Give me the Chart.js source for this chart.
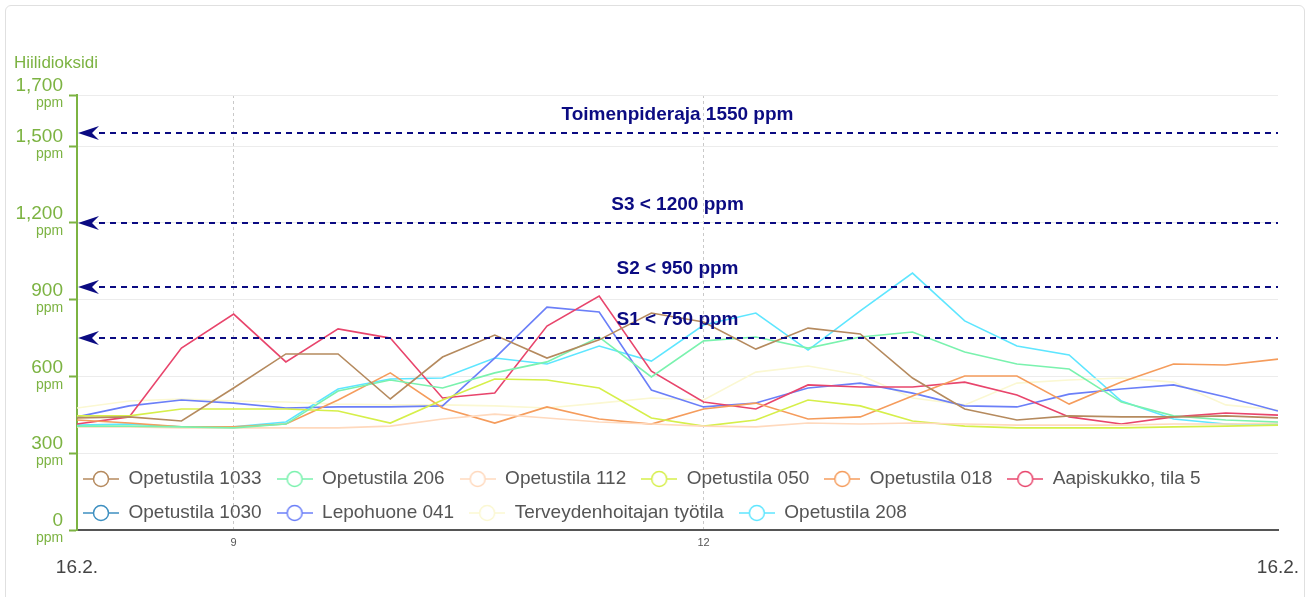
<!DOCTYPE html>
<html>
<head>
<meta charset="utf-8">
<title>Hiilidioksidi</title>
<script src="https://cdn.jsdelivr.net/npm/chart.js@4"></script>
<style>
  html, body { margin: 0; padding: 0; background: #fff; overflow: hidden; }
  #card { position: absolute; left: 5px; top: 5px; width: 1298px; height: 620px; border: 1px solid #e0e0e0; border-radius: 6px; }
  #wrap { position: absolute; left: 0; top: 0; width: 1308px; height: 597px; }
</style>
</head>
<body>
<div id="card"></div>
<div id="wrap"><canvas id="chart"></canvas></div>
<script>
// mittausajat 16.2. (20 min välein)
const times = ['8:00', '8:20', '8:40', '9:00', '9:20', '9:40', '10:00', '10:20', '10:40', '11:00', '11:20', '11:40',
  '12:00', '12:20', '12:40', '13:00', '13:20', '13:40', '14:00', '14:20', '14:40', '15:00', '15:20', '15:40'];

const opetustila1033 = [438, 442, 426, 555, 688, 688, 512, 676, 762, 672, 743, 848, 813, 707, 789, 766, 594, 473, 430, 446, 442, 442, 446, 438];
const opetustila206 = [406, 406, 403, 399, 414, 543, 586, 555, 614, 657, 754, 598, 739, 754, 711, 754, 774, 696, 649, 629, 500, 446, 430, 422];
const opetustila112 = [403, 403, 399, 399, 399, 399, 406, 434, 453, 438, 422, 414, 406, 403, 418, 414, 418, 414, 410, 410, 410, 414, 414, 418];
const opetustila050 = [446, 446, 473, 473, 473, 465, 418, 508, 590, 586, 555, 438, 406, 430, 508, 485, 426, 406, 399, 399, 399, 403, 406, 410];
const opetustila018 = [430, 418, 403, 403, 414, 508, 614, 477, 418, 481, 434, 414, 473, 496, 434, 442, 524, 602, 602, 492, 578, 649, 645, 668];
const aapiskukko5 = [414, 442, 711, 844, 657, 786, 750, 516, 535, 797, 914, 621, 500, 473, 567, 559, 559, 578, 528, 442, 414, 442, 457, 449];
const opetustila1030 = [];
const lepohuone041 = [442, 485, 508, 496, 477, 481, 481, 485, 672, 871, 852, 547, 481, 496, 555, 574, 535, 485, 481, 531, 551, 567, 520, 465];
const terveydenhoitaja = [477, 504, 512, 504, 500, 492, 489, 489, 485, 477, 496, 516, 508, 617, 641, 606, 516, 489, 574, 586, 594, 578, 489, 469];
const opetustila208 = [410, 414, 403, 403, 422, 551, 590, 594, 672, 649, 719, 660, 801, 848, 703, 856, 1004, 817, 719, 684, 504, 434, 414, 414];

const seriesNames = ['Opetustila 1033', 'Opetustila 206', 'Opetustila 112', 'Opetustila 050', 'Opetustila 018',
  'Aapiskukko, tila 5', 'Opetustila 1030', 'Lepohuone 041', 'Terveydenhoitajan työtila', 'Opetustila 208'];
const seriesValues = [opetustila1033, opetustila206, opetustila112, opetustila050, opetustila018,
  aapiskukko5, opetustila1030, lepohuone041, terveydenhoitaja, opetustila208];
const seriesColors = ['#b58a5e', '#7af2ae', '#ffd9bd', '#d6ef4a', '#f59c5c',
  '#e8456c', '#3d8fc0', '#6b7ff8', '#fbf8d2', '#5ee6ff'];

const yTicks = [0, 300, 600, 900, 1200, 1500, 1700];
const yUnit = 'ppm';
const hourTicks = [9, 12];
const dateLabel = '16.2.';
const thresholdValues = [1550, 1200, 950, 750];
const thresholdLabels = ['Toimenpideraja 1550 ppm', 'S3 < 1200 ppm', 'S2 < 950 ppm', 'S1 < 750 ppm'];

const green = '#7cb342';
const navy = '#0b0b82';

function toHours(t) {
    const [h, m] = t.split(':').map(Number);
    return h + m / 60;
}
const xs = times.map(toHours);

// legendan merkki: viiva + ympyrä
function makeMarker(color) {
    const c = document.createElement('canvas');
    c.width = 36;
    c.height = 18;
    const g = c.getContext('2d');
    g.strokeStyle = color;
    g.globalAlpha = 0.75;
    g.lineWidth = 2;
    g.beginPath();
    g.moveTo(0, 9);
    g.lineTo(36, 9);
    g.stroke();
    g.globalAlpha = 1;
    g.beginPath();
    g.arc(18, 9, 7.5, 0, Math.PI * 2);
    g.fillStyle = '#fff';
    g.fill();
    g.lineWidth = 1.5;
    g.stroke();
    return c;
}
const markers = seriesColors.map(makeMarker);

// legenda piirretään kuvaajan alueen sisälle alareunaan
const legendInside = {
    id: 'legendInside',
    beforeLayout(chart) {
        const lg = chart.legend;
        if (lg && !lg._inside) {
            const fit = lg.fit.bind(lg);
            lg.fit = function () {
                fit();
                this._realHeight = this.height;
                this.height = 0;
            };
            lg._inside = true;
        }
    },
    afterLayout(chart) {
        const lg = chart.legend;
        const a = chart.chartArea;
        lg.left = a.left - 9;
        lg.right = a.right;
        lg.width = lg.right - lg.left;
        lg.top = a.bottom - 75.5;
        lg.height = lg._realHeight;
        lg.bottom = lg.top + lg.height;
    }
};

// raja-arvoviivat
const thresholds = {
    id: 'thresholds',
    afterDatasetsDraw(chart) {
        const { ctx, chartArea: a, scales: { y } } = chart;
        ctx.save();
        thresholdValues.forEach((v, i) => {
            const py = Math.round(y.getPixelForValue(v));
            ctx.strokeStyle = navy;
            ctx.lineWidth = 2;
            ctx.setLineDash([6, 5]);
            ctx.beginPath();
            ctx.moveTo(a.left + 22, py);
            ctx.lineTo(a.right, py);
            ctx.stroke();
            ctx.setLineDash([]);
            ctx.fillStyle = navy;
            ctx.beginPath();
            ctx.moveTo(a.left + 1, py);
            ctx.lineTo(a.left + 22, py - 7);
            ctx.lineTo(a.left + 15, py);
            ctx.lineTo(a.left + 22, py + 7);
            ctx.closePath();
            ctx.fill();
            ctx.font = 'bold 19px "Liberation Sans", Arial, sans-serif';
            ctx.textAlign = 'center';
            ctx.textBaseline = 'middle';
            ctx.fillText(thresholdLabels[i], (a.left + a.right) / 2, py - 18);
        });
        ctx.restore();
    }
};

Chart.defaults.font.family = '"Liberation Sans", Arial, sans-serif';

new Chart(document.getElementById('chart'), {
    type: 'line',
    data: {
        datasets: seriesNames.map((name, i) => ({
            label: name,
            data: seriesValues[i].map((v, j) => ({ x: xs[j], y: v })),
            borderColor: seriesColors[i],
            backgroundColor: seriesColors[i],
            borderWidth: 1.6,
            pointRadius: 0,
            tension: 0,
            fill: false,
            xAxisID: 'x',
            yAxisID: 'y'
        }))
    },
    options: {
        responsive: true,
        maintainAspectRatio: false,
        animation: false,
        layout: { padding: { top: 10, left: 14, right: 30, bottom: 17 } },
        plugins: {
            tooltip: { enabled: false },
            title: {
                display: true,
                text: 'Hiilidioksidi',
                align: 'start',
                color: green,
                font: { size: 17, weight: 'normal' },
                padding: { top: 43, bottom: 21.6 }
            },
            legend: {
                position: 'bottom',
                align: 'start',
                labels: {
                    usePointStyle: true,
                    pointStyleWidth: 36,
                    boxHeight: 19,
                    padding: 15,
                    color: '#555',
                    font: { size: 19 },
                    generateLabels: chart => Chart.defaults.plugins.legend.labels.generateLabels(chart)
                        .map(it => Object.assign(it, { pointStyle: markers[it.datasetIndex] }))
                }
            }
        },
        scales: {
            x: {
                type: 'linear',
                position: 'bottom',
                weight: 0,
                min: xs[0],
                max: xs[xs.length - 1],
                afterBuildTicks: s => { s.ticks = hourTicks.map(v => ({ value: v })); },
                ticks: { callback: v => String(v), color: '#555', font: { size: 11 }, padding: 6, maxRotation: 0, autoSkip: false },
                grid: { color: '#c9c9c9', lineWidth: 1, drawTicks: false },
                border: { color: '#555', width: 2, dash: [3, 3] }
            },
            x2: {
                type: 'linear',
                position: 'bottom',
                weight: 1,
                min: xs[0],
                max: xs[xs.length - 1],
                afterBuildTicks: s => { s.ticks = [{ value: s.min }, { value: s.max }]; },
                ticks: { callback: () => dateLabel, color: '#444', font: { size: 19 }, padding: 1, maxRotation: 0, autoSkip: false },
                grid: { display: false, drawTicks: false },
                border: { display: false }
            },
            y: {
                position: 'left',
                weight: 1,
                min: 0,
                max: 1700,
                afterBuildTicks: s => { s.ticks = yTicks.map(v => ({ value: v })); },
                afterFit: s => { s.width = 63; },
                ticks: { callback: v => [v.toLocaleString('en-US'), ''], color: green, font: { size: 19, lineHeight: 0.95 }, padding: 6, autoSkip: false },
                grid: { color: '#ececec', lineWidth: 1, tickColor: green, tickLength: 8, tickWidth: 2 },
                border: { color: green, width: 2 }
            },
            y2: {
                position: 'left',
                weight: 0,
                min: 0,
                max: 1700,
                afterBuildTicks: s => { s.ticks = yTicks.map(v => ({ value: v })); },
                afterFit: s => { s.width = 0; },
                ticks: { callback: () => ['', yUnit], color: green, font: { size: 14, lineHeight: 1.2 }, mirror: true, crossAlign: 'far', padding: -41, autoSkip: false },
                grid: { drawOnChartArea: false, color: 'transparent', tickColor: 'transparent', tickLength: 8 },
                border: { display: false }
            }
        }
    },
    plugins: [legendInside, thresholds]
});
</script>
</body>
</html>
